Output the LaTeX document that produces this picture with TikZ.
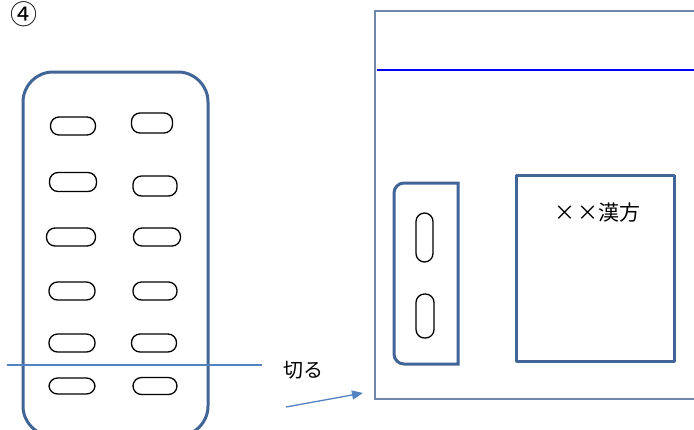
\documentclass[tikz,border=0pt]{standalone}
\usepackage{fontspec}
\newfontfamily\jp{Noto Sans CJK JP}
\usetikzlibrary{arrows.meta}
\definecolor{blisterblue}{RGB}{65,101,150}
\definecolor{cutblue}{RGB}{84,130,192}
\definecolor{framegray}{RGB}{110,135,170}
\newcommand{\fwchar}[1]{\makebox[23bp]{#1}}
\begin{document}
\begin{tikzpicture}[x=1bp,y=-1bp,
  pill/.style={draw=black,line width=1.3bp,rectangle,rounded corners=8.5bp,inner sep=0pt},
  hpill/.style={pill,minimum width=45bp,minimum height=18bp},
  vpill/.style={pill,minimum width=17bp,minimum height=47bp},
  thickbox/.style={draw=blisterblue,line width=3bp},
  jptext/.style={font=\jp\fontsize{20bp}{24bp}\selectfont,inner sep=0pt}]
\useasboundingbox (0,0) rectangle (694,429);
\clip (0,0) rectangle (694,429);
\fill[white] (0,0) rectangle (694,429);
% label
\node[font=\jp\fontsize{27bp}{30bp}\selectfont,inner sep=0pt] (num) at (24,14) {④};
% blister sheet
\draw[thickbox,rounded corners=30bp] (23,72) rectangle (208,436);
\node[hpill] (l1) at (73,126) {};
\node[hpill,minimum width=41bp,minimum height=20bp] (r1) at (152,123) {};
\node[hpill,minimum width=47bp,minimum height=19bp] (l2) at (73,182) {};
\node[hpill,minimum width=44bp,minimum height=20bp] (r2) at (155,186) {};
\node[hpill,minimum width=49bp] (l3) at (71,237) {};
\node[hpill,minimum width=47bp] (r3) at (157,237) {};
\node[hpill,minimum width=46bp] (l4) at (72,291) {};
\node[hpill,minimum width=44bp] (r4) at (155,291) {};
\node[hpill,minimum width=46bp] (l5) at (72,343) {};
\node[hpill,minimum width=45bp] (r5) at (154,343) {};
\node[hpill,minimum width=46bp,minimum height=16bp] (l6) at (72,386) {};
\node[hpill,minimum width=44bp,minimum height=17bp] (r6) at (155,386) {};
% cut line
\coordinate (cutL) at (7,365);
\coordinate (cutR) at (262,365);
\draw[cutblue,line width=1.2bp] (cutL) -- (cutR);
% cut label and arrow
\node[jptext] (cut) at (303,370) {切る};
\coordinate (arrS) at (286,407);
\coordinate (arrE) at (363,393);
\draw[cutblue,line width=1.3bp,-{Triangle[length=11bp,width=9bp]}] (arrS) -- (arrE);
% package frame
\draw[framegray,line width=1.5bp] (375,11) rectangle (700,399);
\draw[blue,line width=2bp] (377,70) -- (700,70);
% cut piece
\draw[thickbox] (458,183) [rounded corners=10bp] -- (394,183) -- (394,364) [sharp corners] -- (458,364) -- cycle;
\node[vpill,minimum height=49bp] (v1) at (424.5,237.5) {};
\node[vpill,minimum width=18bp,minimum height=44bp] (v2) at (425,316) {};
% label box
\draw[thickbox,line join=round] (516,175) rectangle (674,361);
\node[jptext,font=\jp\fontsize{21bp}{24bp}\selectfont] (name) at (597,213) {\fwchar{×}\fwchar{×}漢方};
\end{tikzpicture}
\end{document}
